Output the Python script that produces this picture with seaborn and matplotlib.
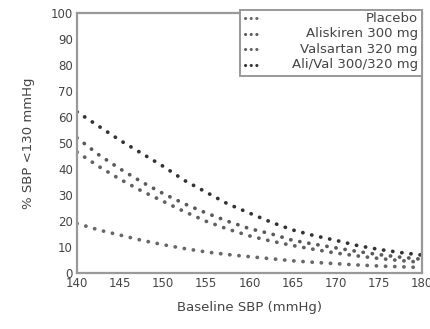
import pandas as pd
import matplotlib
matplotlib.use("Agg")
import matplotlib.pyplot as plt
import seaborn as sns

# -------------------------------
# DATA
# -------------------------------
baseline_sbp = [140, 142.5, 145, 147.5, 150, 152.5, 155, 157.5, 160,
                162.5, 165, 167.5, 170, 172.5, 175, 177.5, 180]
placebo = [19, 16.5, 14.5, 12.5, 10.8, 9.3, 8, 7, 6.2,
           5.4, 4.6, 4, 3.5, 3, 2.6, 2.3, 2]
aliskiren = [52, 45.5, 40, 35, 30.5, 26.5, 23, 19.8, 17,
             15, 12.5, 11, 9.6, 8.2, 7, 6, 5.2]
valsartan = [46.5, 41, 36, 31.5, 27.5, 23.5, 19.8, 16.8, 14.2,
             12.2, 10.5, 9, 7.6, 6.5, 5.5, 4.7, 4]
ali_val = [62, 56.5, 51, 46, 41, 35.5, 31, 26.5, 23,
           19.5, 16.5, 14.3, 12.5, 10.5, 9, 7.8, 6.8]

series_names = ["Placebo", "Aliskiren 300 mg", "Valsartan 320 mg", "Ali/Val 300/320 mg"]
series_vals = [placebo, aliskiren, valsartan, ali_val]
series_colors = ["#686868", "#5a5a5a", "#616161", "#333333"]

x_ticks = [140, 145, 150, 155, 160, 165, 170, 175, 180]
y_ticks = [0, 10, 20, 30, 40, 50, 60, 70, 80, 90, 100]

df = pd.DataFrame({
    "Baseline SBP": baseline_sbp * len(series_names),
    "pct": [v for vals in series_vals for v in vals],
    "Treatment": [n for n in series_names for _ in baseline_sbp],
})

# -------------------------------
# PLOT
# -------------------------------
sns.set_theme(style="white")
plt.rcParams["font.family"] = ["DejaVu Sans"]

fig = plt.figure(figsize=(4.30, 3.29), dpi=100)
ax = fig.add_axes([0.179, 0.171, 0.802, 0.789])

dot_style = (0, (0.05, 2.4))
for name, col in zip(series_names, series_colors):
    sub = df[df["Treatment"] == name]
    sns.lineplot(data=sub, x="Baseline SBP", y="pct", ax=ax, color=col,
                 linewidth=2.7, linestyle=dot_style, dash_capstyle="round",
                 legend=False)

ax.set_xlim(140, 180)
ax.set_ylim(0, 100)
ax.set_xticks(x_ticks)
ax.set_yticks(y_ticks)
ax.set_xlabel("Baseline SBP (mmHg)", fontsize=9.5, color="#444444", labelpad=8)
ax.set_ylabel("% SBP <130 mmHg", fontsize=9.5, color="#444444", labelpad=11)
ax.tick_params(axis="both", labelsize=8.5, colors="#444444", direction="in",
               length=3, width=1, pad=3)
for s in ax.spines.values():
    s.set_color("#999999")
    s.set_linewidth(1.6)

# legend box, handles left, labels right-aligned (as in the reference)
box = plt.Rectangle((0.472, 0.757), 0.528, 0.255, transform=ax.transAxes,
                    facecolor="white", edgecolor="#999999", linewidth=1.4,
                    clip_on=False, zorder=5)
ax.add_patch(box)
row_y = [0.981, 0.921, 0.861, 0.801]
for name, col, yy in zip(series_names, series_colors, row_y):
    ax.plot([0.487, 0.535], [yy, yy], transform=ax.transAxes, color=col,
            linewidth=2.2, linestyle=(0, (0.05, 1.8)), dash_capstyle="round",
            clip_on=False, zorder=6)
    ax.text(0.988, yy, name, transform=ax.transAxes, ha="right", va="center",
            fontsize=9.5, color="#444444", zorder=6)

plt.savefig("out.png", dpi=100)
plt.close()
